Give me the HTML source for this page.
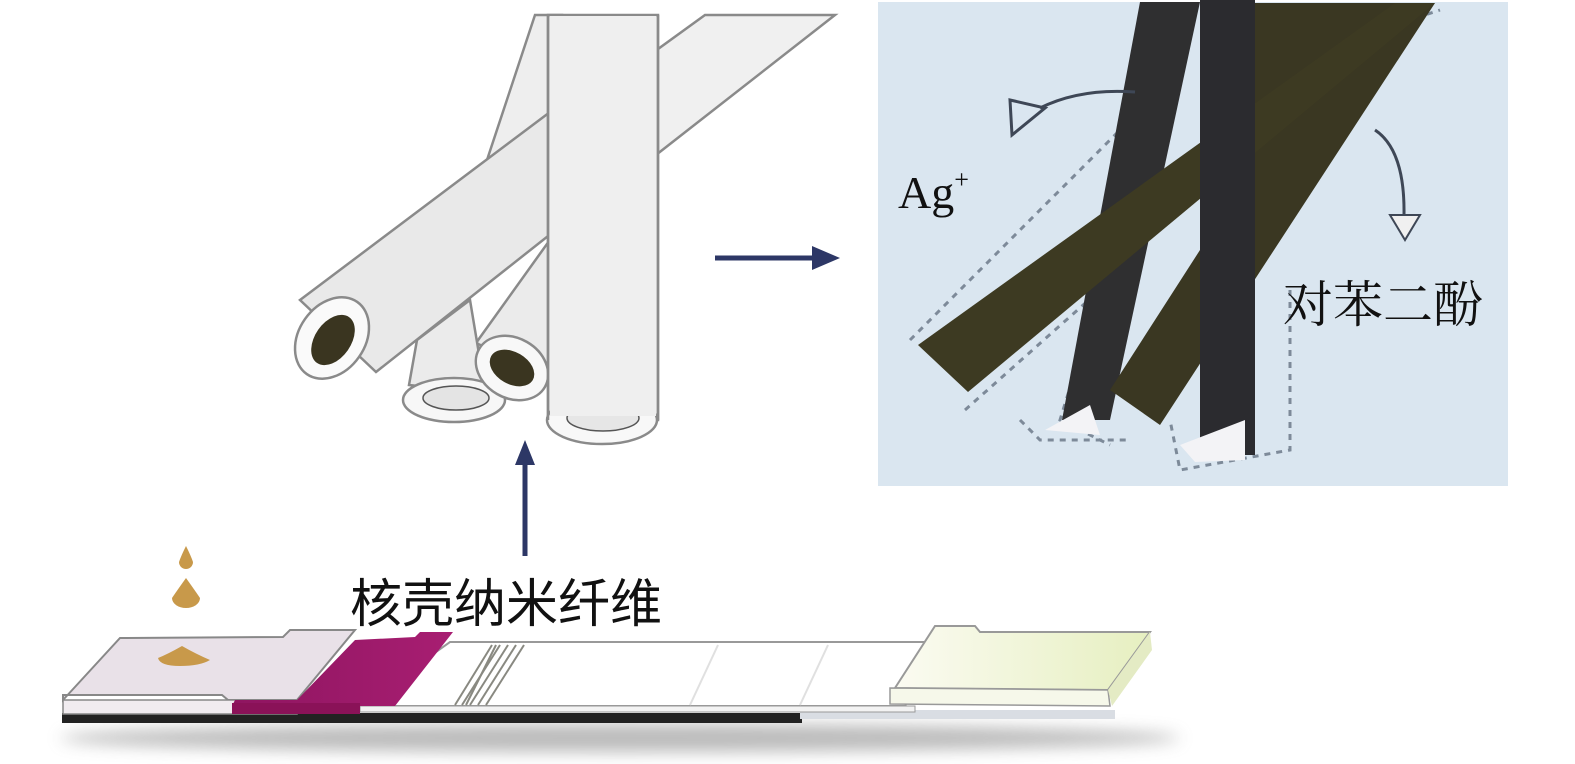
<!DOCTYPE html>
<html><head><meta charset="utf-8"><style>
html,body{margin:0;padding:0;background:#fff;}
svg{display:block}
</style></head><body>
<svg width="1575" height="764" viewBox="0 0 1575 764" xmlns="http://www.w3.org/2000/svg">
<defs>
<filter id="bl" x="-10%" y="-50%" width="120%" height="200%"><feGaussianBlur stdDeviation="8"/></filter>
<linearGradient id="yg" x1="0" x2="1" y1="0" y2="0"><stop offset="0" stop-color="#fbfbf2"/><stop offset="1" stop-color="#e6efc0"/></linearGradient>
<linearGradient id="mg" x1="0" x2="1"><stop offset="0" stop-color="#8e1560"/><stop offset="1" stop-color="#a81e72"/></linearGradient>
</defs>

<g stroke="#8a8a8a" stroke-width="2.5" fill="#ececec">
  <polygon points="560,230 835,15 705,15 560,120" fill="#f0f0f0"/>
  <polygon points="487,160 535,15 562,15 562,110" fill="#eeeeee"/>
  <polygon points="476,343 557,230 562,300 545,375" fill="#ebebeb"/>
  <polygon points="409,385 417,340 470,300 480,360 500,395" fill="#ebebeb"/>
  <polygon points="300,300 562,103 562,225 376,372" fill="#e9e9e9"/>
  <ellipse cx="332" cy="338" rx="33" ry="44" transform="rotate(35 332 338)" fill="#fafafa"/>
  <ellipse cx="333" cy="340" rx="18" ry="28" transform="rotate(35 333 340)" fill="#3a3520" stroke="none"/>
  <ellipse cx="454" cy="400" rx="51" ry="22" fill="#f7f7f7"/>
  <ellipse cx="456" cy="398" rx="33" ry="12" fill="#e4e4e4" stroke="#555" stroke-width="1.5"/>
  <ellipse cx="512" cy="368" rx="38" ry="30" transform="rotate(30 512 368)" fill="#f8f8f8"/>
  <ellipse cx="512" cy="368" rx="24" ry="16" transform="rotate(30 512 368)" fill="#3a3520" stroke="none"/>
  <rect x="548" y="15" width="110" height="405" fill="#efefef"/>
  <ellipse cx="602" cy="420" rx="55" ry="24" fill="#f8f8f8"/>
  <ellipse cx="603" cy="418" rx="36" ry="13" fill="#e6e6e6" stroke="#555" stroke-width="1.5"/>
</g>
<rect x="550" y="16" width="106" height="400" fill="#efefef"/>
<line x1="548" y1="15" x2="548" y2="420" stroke="#8a8a8a" stroke-width="2.5"/>
<line x1="658" y1="15" x2="658" y2="420" stroke="#8a8a8a" stroke-width="2.5"/>

<g stroke="#2d3766" stroke-width="5" fill="#2d3766">
<line x1="525" y1="556" x2="525" y2="448"/>
<polygon points="515,465 525,440 535,465" stroke="none"/>
<line x1="715" y1="258" x2="825" y2="258"/>
<polygon points="812,246 840,258 812,270" stroke="none"/>
</g>

<rect x="878" y="2" width="630" height="484" fill="#dae6f0"/>
<g stroke="#7d8a99" stroke-width="3" stroke-dasharray="6 6" fill="none">
<polyline points="910,340 1130,120 1145,10"/>
<polyline points="965,410 1100,290 1060,420 1110,445"/>
<polyline points="1270,155 1380,30 1440,10"/>
<polyline points="1290,290 1290,450 1180,470 1170,420"/>
<polyline points="1020,420 1040,440 1130,440"/>
</g>
<polygon points="1140,2 1200,2 1110,420 1062,420" fill="#2f2f30"/>
<polygon points="1255,3 1435,3 1160,425 1110,390 1200,250" fill="#3a3722"/>
<polygon points="918,345 1395,3 1435,3 968,392" fill="#3d3a22"/>
<polygon points="1200,0 1255,0 1255,455 1200,455" fill="#2b2b2f"/>
<polygon points="1045,430 1090,405 1100,435" fill="#f3f3f6"/>
<polygon points="1180,445 1245,420 1245,460 1195,462" fill="#f3f3f6"/>
<g stroke="#3e4756" stroke-width="3" fill="none">
<path d="M1135,92 Q1080,88 1040,108"/>
<path d="M1375,130 Q1405,150 1404,215"/>
</g>
<polygon points="1010,100 1045,108 1012,135" fill="none" stroke="#3e4756" stroke-width="3"/>
<polygon points="1390,215 1420,215 1405,240" fill="#f0f0f0" stroke="#3e4756" stroke-width="2"/>
<text x="898" y="208" font-family="Liberation Serif, serif" font-size="46" fill="#111">Ag<tspan font-size="26" dy="-20">+</tspan></text>
<text x="1283" y="322" font-family="Liberation Serif, 'Noto Serif CJK SC', serif" font-size="50" fill="#111">对苯二酚</text>

<ellipse cx="620" cy="738" rx="560" ry="14" fill="#777" opacity="0.5" filter="url(#bl)"/>
<rect x="62" y="713" width="740" height="10" fill="#222"/>
<rect x="800" y="710" width="315" height="9" fill="#d9dde3"/>
<polygon points="450,642 945,642 905,706 360,706" fill="#fff" stroke="#999" stroke-width="2"/>
<rect x="360" y="706" width="555" height="6" fill="#f3f3f3" stroke="#999" stroke-width="1"/>
<g stroke="#6c6c62" stroke-width="2" opacity="0.8">
<line x1="492" y1="645" x2="455" y2="705"/><line x1="500" y1="645" x2="462" y2="705"/>
<line x1="508" y1="645" x2="470" y2="705"/><line x1="516" y1="645" x2="478" y2="705"/>
<line x1="524" y1="645" x2="486" y2="705"/><line x1="496" y1="645" x2="466" y2="705"/>
</g>
<line x1="718" y1="645" x2="690" y2="705" stroke="#e0e0e0" stroke-width="2"/>
<line x1="828" y1="645" x2="800" y2="705" stroke="#e0e0e0" stroke-width="2"/>
<polygon points="63,700 120,638 283,637 290,630 355,630 297,700 228,700 222,695 63,695" fill="#e9e1e8" stroke="#888" stroke-width="2"/>
<polygon points="63,700 297,700 297,714 63,714" fill="#f1ecf0" stroke="#888" stroke-width="1.5"/>
<polygon points="355,640 415,637 420,632 453,632 395,706 232,706 235,700 297,700" fill="url(#mg)"/>
<rect x="232" y="703" width="128" height="11" fill="#8a1258"/>
<polygon points="935,626 975,626 980,632 1150,632 1108,690 895,688" fill="url(#yg)" stroke="#999" stroke-width="2"/>
<polygon points="890,688 1108,690 1110,706 890,704" fill="#f6f8ea" stroke="#999" stroke-width="1.5"/>
<polygon points="1108,690 1150,632 1152,650 1112,706" fill="#e4ebc4"/>
<g fill="#c8994a">
<path d="M186,546 Q181,556 179,562 A7,7 0 0 0 193,562 Q191,556 186,546Z"/>
<path d="M186,578 Q176,592 172,598 A14,10 0 0 0 200,598 Q196,592 186,578Z"/>
<path d="M182,646 Q168,654 158,658 Q160,666 180,666 Q200,666 210,660 Q196,654 182,646Z"/>
</g>
<text x="350" y="622" font-family="Liberation Sans, 'Noto Sans CJK SC', sans-serif" font-size="52" fill="#111">核壳纳米纤维</text>
</svg>
</body></html>
